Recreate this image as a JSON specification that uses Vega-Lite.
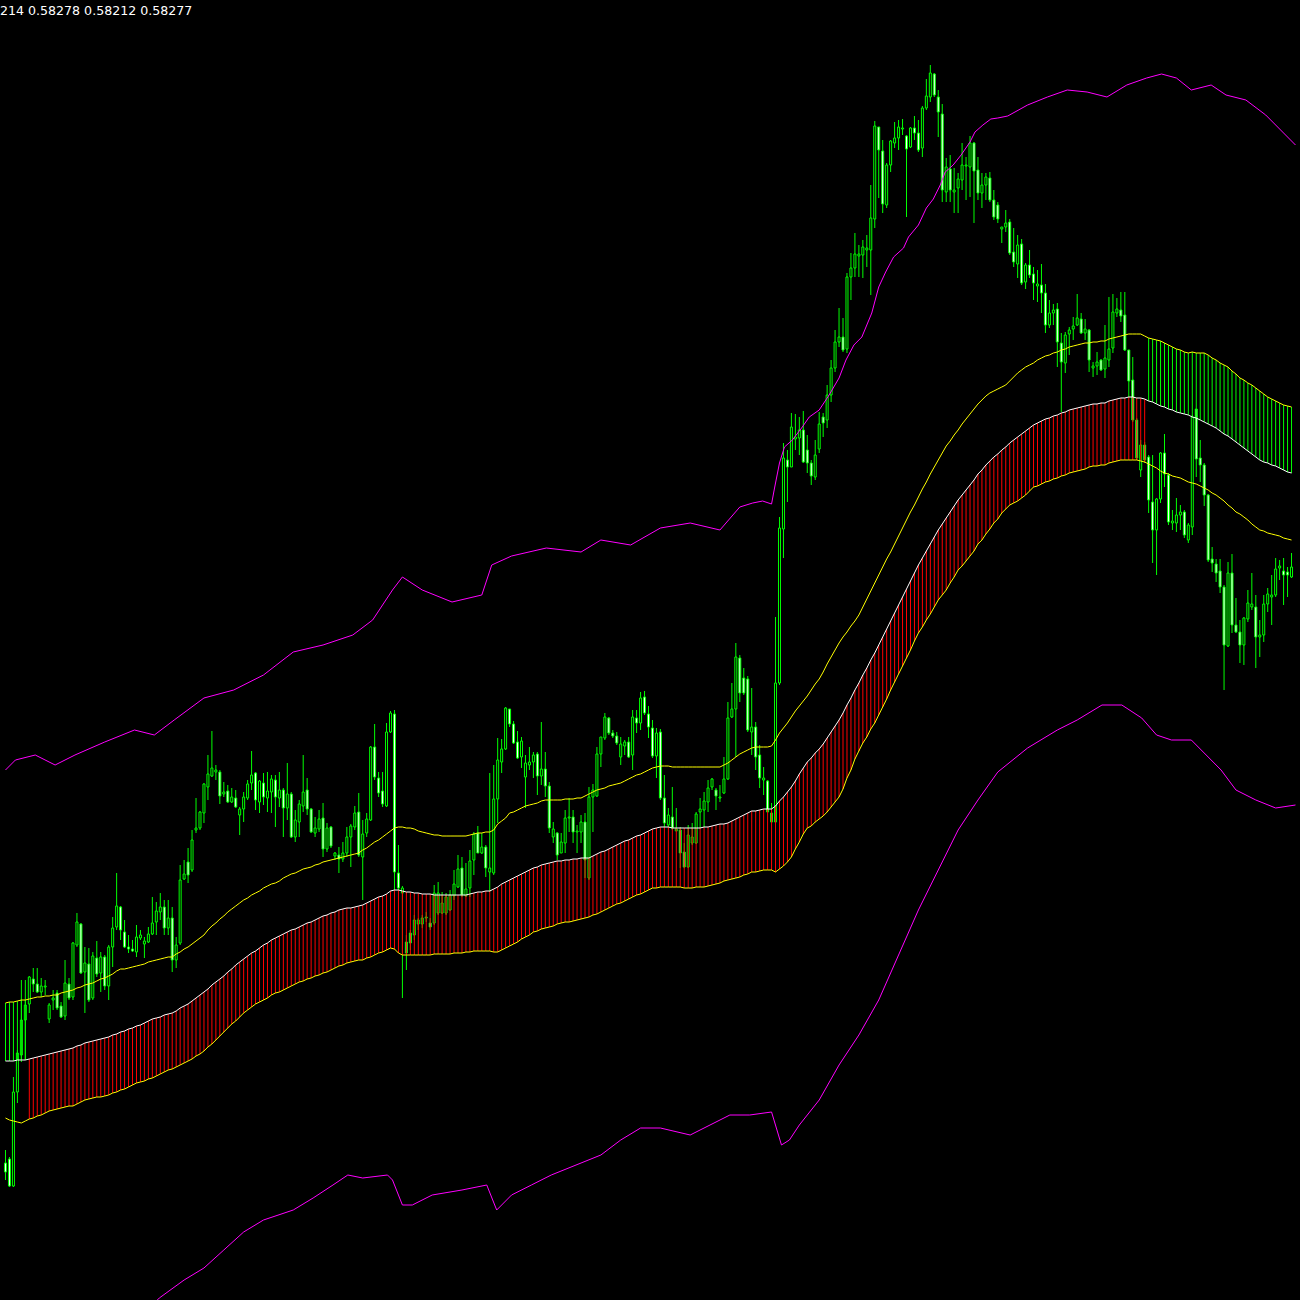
{
"$schema":"https://vega.github.io/schema/vega-lite/v6.json",
"width":1300,"height":1300,"padding":0,
"autosize":{"type":"none"},
"background":"#000000",
"config":{"view":{"stroke":null}},
"title":{"text":"214 0.58278 0.58212 0.58277","anchor":"start","frame":"group","orient":"top","offset":-28,"baseline":"alphabetic","color":"#ffffff","font":"DejaVu Sans","fontSize":12.6,"fontWeight":"normal"},
"datasets":{
"bars":[
{"t":0,"o":137,"h":150,"l":120,"c":128,"w":239,"u":297,"d":182},
{"t":1,"o":141,"h":143,"l":113,"c":114,"w":239,"u":298,"d":180},
{"t":2,"o":114,"h":223,"l":113,"c":208,"w":239,"u":298,"d":179},
{"t":3,"o":208,"h":250,"l":197,"c":247,"w":240,"u":299,"d":178},
{"t":4,"o":245,"h":320,"l":238,"c":280,"w":240,"u":300,"d":177},
{"t":5,"o":280,"h":320,"l":240,"c":295,"w":240,"u":300,"d":179},
{"t":6,"o":296,"h":324,"l":287,"c":323,"w":241,"u":301,"d":181},
{"t":7,"o":321,"h":332,"l":308,"c":316,"w":242,"u":302,"d":182},
{"t":8,"o":316,"h":332,"l":307,"c":308,"w":243,"u":303,"d":184},
{"t":9,"o":308,"h":322,"l":303,"c":314,"w":244,"u":303,"d":185},
{"t":10,"o":313,"h":320,"l":305,"c":314,"w":245,"u":304,"d":187},
{"t":11,"o":281,"h":297,"l":277,"c":295,"w":246,"u":304,"d":189},
{"t":12,"o":300,"h":310,"l":290,"c":302,"w":247,"u":305,"d":190},
{"t":13,"o":307,"h":310,"l":290,"c":292,"w":248,"u":305,"d":191},
{"t":14,"o":294,"h":298,"l":282,"c":283,"w":249,"u":307,"d":192},
{"t":15,"o":284,"h":340,"l":280,"c":317,"w":250,"u":308,"d":193},
{"t":16,"o":316,"h":322,"l":300,"c":302,"w":251,"u":309,"d":194},
{"t":17,"o":303,"h":358,"l":300,"c":357,"w":252,"u":310,"d":194},
{"t":18,"o":355,"h":387,"l":353,"c":378,"w":254,"u":312,"d":196},
{"t":19,"o":376,"h":377,"l":326,"c":327,"w":255,"u":313,"d":198},
{"t":20,"o":328,"h":353,"l":287,"c":337,"w":257,"u":315,"d":200},
{"t":21,"o":336,"h":352,"l":298,"c":300,"w":258,"u":316,"d":201},
{"t":22,"o":302,"h":348,"l":300,"c":344,"w":259,"u":317,"d":202},
{"t":23,"o":342,"h":359,"l":323,"c":326,"w":260,"u":319,"d":203},
{"t":24,"o":327,"h":348,"l":308,"c":343,"w":261,"u":321,"d":203},
{"t":25,"o":343,"h":345,"l":310,"c":314,"w":262,"u":322,"d":204},
{"t":26,"o":314,"h":355,"l":300,"c":353,"w":263,"u":324,"d":205},
{"t":27,"o":353,"h":383,"l":333,"c":372,"w":265,"u":326,"d":207},
{"t":28,"o":373,"h":427,"l":370,"c":394,"w":266,"u":329,"d":208},
{"t":29,"o":393,"h":394,"l":360,"c":370,"w":268,"u":331,"d":210},
{"t":30,"o":368,"h":380,"l":352,"c":353,"w":269,"u":331,"d":211},
{"t":31,"o":353,"h":365,"l":347,"c":351,"w":271,"u":332,"d":213},
{"t":32,"o":351,"h":360,"l":348,"c":349,"w":272,"u":333,"d":215},
{"t":33,"o":348,"h":375,"l":343,"c":363,"w":274,"u":334,"d":217},
{"t":34,"o":362,"h":370,"l":360,"c":365,"w":275,"u":335,"d":218},
{"t":35,"o":356,"h":363,"l":342,"c":359,"w":277,"u":336,"d":219},
{"t":36,"o":358,"h":373,"l":357,"c":366,"w":279,"u":338,"d":221},
{"t":37,"o":366,"h":403,"l":365,"c":377,"w":281,"u":339,"d":222},
{"t":38,"o":378,"h":398,"l":365,"c":389,"w":282,"u":340,"d":224},
{"t":39,"o":388,"h":407,"l":380,"c":393,"w":283,"u":341,"d":226},
{"t":40,"o":393,"h":400,"l":365,"c":372,"w":285,"u":342,"d":228},
{"t":41,"o":372,"h":400,"l":365,"c":382,"w":286,"u":343,"d":230},
{"t":42,"o":382,"h":393,"l":328,"c":340,"w":287,"u":343,"d":231},
{"t":43,"o":340,"h":363,"l":332,"c":355,"w":289,"u":346,"d":233},
{"t":44,"o":357,"h":435,"l":355,"c":420,"w":292,"u":348,"d":235},
{"t":45,"o":421,"h":440,"l":420,"c":426,"w":294,"u":351,"d":237},
{"t":46,"o":438,"h":452,"l":417,"c":425,"w":296,"u":353,"d":239},
{"t":47,"o":430,"h":470,"l":428,"c":460,"w":299,"u":356,"d":241},
{"t":48,"o":470,"h":502,"l":467,"c":472,"w":302,"u":359,"d":244},
{"t":49,"o":472,"h":489,"l":470,"c":488,"w":305,"u":362,"d":246},
{"t":50,"o":487,"h":517,"l":477,"c":516,"w":308,"u":365,"d":249},
{"t":51,"o":513,"h":545,"l":500,"c":526,"w":311,"u":370,"d":253},
{"t":52,"o":524,"h":569,"l":523,"c":532,"w":315,"u":374,"d":256},
{"t":53,"o":528,"h":535,"l":520,"c":530,"w":318,"u":377,"d":260},
{"t":54,"o":528,"h":530,"l":496,"c":504,"w":321,"u":381,"d":264},
{"t":55,"o":506,"h":518,"l":503,"c":508,"w":324,"u":384,"d":268},
{"t":56,"o":509,"h":515,"l":497,"c":498,"w":328,"u":388,"d":272},
{"t":57,"o":498,"h":512,"l":497,"c":503,"w":331,"u":391,"d":276},
{"t":58,"o":502,"h":510,"l":492,"c":493,"w":335,"u":394,"d":279},
{"t":59,"o":485,"h":493,"l":465,"c":491,"w":338,"u":397,"d":283},
{"t":60,"o":491,"h":508,"l":478,"c":503,"w":341,"u":400,"d":287},
{"t":61,"o":502,"h":520,"l":500,"c":516,"w":344,"u":402,"d":290},
{"t":62,"o":517,"h":549,"l":510,"c":525,"w":347,"u":405,"d":293},
{"t":63,"o":527,"h":528,"l":490,"c":500,"w":349,"u":407,"d":296},
{"t":64,"o":498,"h":520,"l":487,"c":519,"w":352,"u":409,"d":298},
{"t":65,"o":517,"h":527,"l":495,"c":503,"w":355,"u":412,"d":300},
{"t":66,"o":502,"h":528,"l":488,"c":509,"w":357,"u":414,"d":302},
{"t":67,"o":508,"h":525,"l":487,"c":521,"w":360,"u":416,"d":305},
{"t":68,"o":520,"h":525,"l":473,"c":503,"w":362,"u":417,"d":307},
{"t":69,"o":502,"h":528,"l":493,"c":510,"w":364,"u":419,"d":308},
{"t":70,"o":510,"h":512,"l":463,"c":492,"w":366,"u":422,"d":310},
{"t":71,"o":492,"h":537,"l":480,"c":506,"w":368,"u":424,"d":312},
{"t":72,"o":506,"h":508,"l":462,"c":463,"w":370,"u":426,"d":314},
{"t":73,"o":463,"h":490,"l":458,"c":480,"w":371,"u":427,"d":316},
{"t":74,"o":478,"h":500,"l":463,"c":496,"w":373,"u":429,"d":318},
{"t":75,"o":494,"h":545,"l":488,"c":508,"w":375,"u":431,"d":319},
{"t":76,"o":510,"h":522,"l":485,"c":491,"w":377,"u":432,"d":321},
{"t":77,"o":491,"h":492,"l":467,"c":468,"w":378,"u":433,"d":322},
{"t":78,"o":467,"h":483,"l":463,"c":472,"w":380,"u":435,"d":324},
{"t":79,"o":471,"h":490,"l":468,"c":481,"w":382,"u":436,"d":325},
{"t":80,"o":482,"h":497,"l":443,"c":451,"w":384,"u":438,"d":327},
{"t":81,"o":451,"h":477,"l":448,"c":472,"w":385,"u":439,"d":328},
{"t":82,"o":473,"h":474,"l":452,"c":454,"w":387,"u":440,"d":330},
{"t":83,"o":444,"h":448,"l":440,"c":447,"w":388,"u":441,"d":332},
{"t":84,"o":445,"h":453,"l":427,"c":441,"w":390,"u":442,"d":334},
{"t":85,"o":441,"h":458,"l":438,"c":447,"w":391,"u":443,"d":335},
{"t":86,"o":447,"h":473,"l":443,"c":463,"w":392,"u":444,"d":337},
{"t":87,"o":463,"h":476,"l":433,"c":474,"w":392,"u":445,"d":338},
{"t":88,"o":473,"h":494,"l":470,"c":487,"w":393,"u":446,"d":339},
{"t":89,"o":488,"h":507,"l":443,"c":445,"w":394,"u":447,"d":340},
{"t":90,"o":443,"h":480,"l":400,"c":466,"w":395,"u":450,"d":340},
{"t":91,"o":467,"h":487,"l":463,"c":481,"w":397,"u":452,"d":342},
{"t":92,"o":480,"h":554,"l":479,"c":553,"w":399,"u":455,"d":343},
{"t":93,"o":553,"h":576,"l":520,"c":523,"w":401,"u":458,"d":345},
{"t":94,"o":522,"h":528,"l":503,"c":507,"w":403,"u":460,"d":347},
{"t":95,"o":509,"h":528,"l":493,"c":496,"w":404,"u":463,"d":348},
{"t":96,"o":494,"h":577,"l":493,"c":568,"w":406,"u":466,"d":350},
{"t":97,"o":568,"h":589,"l":567,"c":587,"w":409,"u":469,"d":352},
{"t":98,"o":586,"h":590,"l":410,"c":428,"w":410,"u":472,"d":351},
{"t":99,"o":427,"h":455,"l":410,"c":412,"w":410,"u":473,"d":347},
{"t":100,"o":407,"h":414,"l":302,"c":412,"w":409,"u":473,"d":345},
{"t":101,"o":358,"h":365,"l":330,"c":347,"w":408,"u":472,"d":345},
{"t":102,"o":367,"h":370,"l":350,"c":357,"w":408,"u":472,"d":345},
{"t":103,"o":365,"h":385,"l":360,"c":380,"w":407,"u":471,"d":345},
{"t":104,"o":376,"h":382,"l":370,"c":380,"w":407,"u":469,"d":345},
{"t":105,"o":376,"h":385,"l":372,"c":382,"w":406,"u":468,"d":345},
{"t":106,"o":382,"h":388,"l":378,"c":383,"w":406,"u":467,"d":345},
{"t":107,"o":377,"h":382,"l":370,"c":373,"w":406,"u":466,"d":345},
{"t":108,"o":377,"h":415,"l":375,"c":407,"w":405,"u":465,"d":346},
{"t":109,"o":387,"h":418,"l":385,"c":407,"w":405,"u":465,"d":346},
{"t":110,"o":387,"h":408,"l":386,"c":397,"w":405,"u":464,"d":346},
{"t":111,"o":387,"h":407,"l":385,"c":403,"w":405,"u":464,"d":346},
{"t":112,"o":390,"h":410,"l":389,"c":405,"w":405,"u":464,"d":346},
{"t":113,"o":404,"h":430,"l":400,"c":416,"w":405,"u":464,"d":347},
{"t":114,"o":413,"h":445,"l":412,"c":431,"w":405,"u":464,"d":347},
{"t":115,"o":432,"h":443,"l":403,"c":405,"w":405,"u":464,"d":347},
{"t":116,"o":404,"h":437,"l":403,"c":411,"w":405,"u":464,"d":348},
{"t":117,"o":412,"h":450,"l":403,"c":439,"w":406,"u":465,"d":348},
{"t":118,"o":440,"h":468,"l":425,"c":466,"w":407,"u":466,"d":349},
{"t":119,"o":467,"h":474,"l":447,"c":447,"w":408,"u":467,"d":349},
{"t":120,"o":447,"h":467,"l":446,"c":453,"w":408,"u":467,"d":349},
{"t":121,"o":453,"h":455,"l":423,"c":432,"w":409,"u":468,"d":349},
{"t":122,"o":428,"h":527,"l":408,"c":432,"w":409,"u":468,"d":349},
{"t":123,"o":427,"h":535,"l":425,"c":501,"w":411,"u":470,"d":348},
{"t":124,"o":501,"h":562,"l":477,"c":540,"w":413,"u":476,"d":348},
{"t":125,"o":538,"h":561,"l":527,"c":551,"w":416,"u":479,"d":350},
{"t":126,"o":551,"h":593,"l":550,"c":592,"w":418,"u":482,"d":352},
{"t":127,"o":591,"h":591,"l":573,"c":576,"w":420,"u":487,"d":354},
{"t":128,"o":576,"h":579,"l":556,"c":557,"w":422,"u":488,"d":356},
{"t":129,"o":558,"h":569,"l":541,"c":542,"w":424,"u":490,"d":358},
{"t":130,"o":543,"h":563,"l":532,"c":559,"w":426,"u":492,"d":361},
{"t":131,"o":523,"h":545,"l":492,"c":537,"w":428,"u":494,"d":363},
{"t":132,"o":535,"h":553,"l":530,"c":538,"w":430,"u":495,"d":365},
{"t":133,"o":538,"h":548,"l":522,"c":545,"w":432,"u":496,"d":368},
{"t":134,"o":546,"h":548,"l":505,"c":524,"w":433,"u":497,"d":369},
{"t":135,"o":524,"h":578,"l":515,"c":531,"w":435,"u":499,"d":371},
{"t":136,"o":531,"h":548,"l":503,"c":514,"w":436,"u":500,"d":372},
{"t":137,"o":514,"h":518,"l":467,"c":472,"w":437,"u":500,"d":373},
{"t":138,"o":463,"h":478,"l":457,"c":471,"w":438,"u":500,"d":374},
{"t":139,"o":467,"h":468,"l":440,"c":445,"w":439,"u":500,"d":376},
{"t":140,"o":447,"h":467,"l":447,"c":458,"w":439,"u":500,"d":377},
{"t":141,"o":457,"h":490,"l":447,"c":482,"w":440,"u":501,"d":378},
{"t":142,"o":482,"h":502,"l":468,"c":483,"w":440,"u":501,"d":378},
{"t":143,"o":483,"h":490,"l":457,"c":468,"w":441,"u":501,"d":379},
{"t":144,"o":468,"h":475,"l":447,"c":469,"w":441,"u":502,"d":380},
{"t":145,"o":468,"h":485,"l":457,"c":478,"w":442,"u":502,"d":381},
{"t":146,"o":478,"h":487,"l":422,"c":440,"w":442,"u":504,"d":382},
{"t":147,"o":422,"h":513,"l":420,"c":503,"w":442,"u":506,"d":383},
{"t":148,"o":503,"h":516,"l":468,"c":510,"w":444,"u":508,"d":385},
{"t":149,"o":504,"h":553,"l":503,"c":546,"w":446,"u":510,"d":386},
{"t":150,"o":546,"h":563,"l":533,"c":563,"w":448,"u":511,"d":388},
{"t":151,"o":562,"h":587,"l":560,"c":583,"w":449,"u":512,"d":390},
{"t":152,"o":582,"h":583,"l":565,"c":567,"w":451,"u":514,"d":392},
{"t":153,"o":567,"h":570,"l":562,"c":564,"w":453,"u":515,"d":394},
{"t":154,"o":564,"h":568,"l":555,"c":557,"w":455,"u":516,"d":396},
{"t":155,"o":543,"h":563,"l":535,"c":556,"w":457,"u":517,"d":397},
{"t":156,"o":554,"h":560,"l":545,"c":558,"w":459,"u":519,"d":399},
{"t":157,"o":558,"h":563,"l":542,"c":543,"w":460,"u":521,"d":401},
{"t":158,"o":545,"h":590,"l":530,"c":583,"w":462,"u":523,"d":403},
{"t":159,"o":582,"h":590,"l":567,"c":577,"w":464,"u":525,"d":405},
{"t":160,"o":577,"h":608,"l":570,"c":602,"w":465,"u":526,"d":406},
{"t":161,"o":603,"h":609,"l":585,"c":587,"w":467,"u":528,"d":408},
{"t":162,"o":586,"h":594,"l":562,"c":573,"w":469,"u":530,"d":410},
{"t":163,"o":572,"h":580,"l":542,"c":544,"w":471,"u":532,"d":412},
{"t":164,"o":544,"h":572,"l":522,"c":567,"w":472,"u":533,"d":412},
{"t":165,"o":568,"h":571,"l":500,"c":502,"w":473,"u":534,"d":413},
{"t":166,"o":502,"h":525,"l":473,"c":477,"w":473,"u":534,"d":413},
{"t":167,"o":475,"h":492,"l":473,"c":485,"w":473,"u":534,"d":413},
{"t":168,"o":483,"h":513,"l":470,"c":472,"w":472,"u":533,"d":413},
{"t":169,"o":469,"h":492,"l":469,"c":471,"w":472,"u":533,"d":413},
{"t":170,"o":470,"h":473,"l":432,"c":447,"w":472,"u":533,"d":413},
{"t":171,"o":448,"h":457,"l":432,"c":433,"w":472,"u":533,"d":412},
{"t":172,"o":433,"h":475,"l":432,"c":465,"w":472,"u":533,"d":412},
{"t":173,"o":457,"h":477,"l":455,"c":463,"w":472,"u":533,"d":412},
{"t":174,"o":457,"h":488,"l":456,"c":486,"w":472,"u":533,"d":413},
{"t":175,"o":488,"h":502,"l":472,"c":491,"w":472,"u":533,"d":413},
{"t":176,"o":490,"h":508,"l":473,"c":499,"w":473,"u":533,"d":413},
{"t":177,"o":498,"h":520,"l":488,"c":512,"w":473,"u":533,"d":414},
{"t":178,"o":513,"h":522,"l":510,"c":521,"w":474,"u":533,"d":415},
{"t":179,"o":510,"h":512,"l":490,"c":504,"w":475,"u":533,"d":416},
{"t":180,"o":502,"h":515,"l":498,"c":503,"w":476,"u":533,"d":417},
{"t":181,"o":507,"h":543,"l":506,"c":521,"w":476,"u":535,"d":419},
{"t":182,"o":521,"h":598,"l":520,"c":582,"w":477,"u":537,"d":420},
{"t":183,"o":583,"h":617,"l":582,"c":591,"w":479,"u":540,"d":421},
{"t":184,"o":591,"h":657,"l":543,"c":643,"w":481,"u":543,"d":422},
{"t":185,"o":642,"h":645,"l":598,"c":607,"w":483,"u":546,"d":423},
{"t":186,"o":622,"h":632,"l":605,"c":607,"w":485,"u":548,"d":425},
{"t":187,"o":621,"h":624,"l":568,"c":570,"w":487,"u":550,"d":426},
{"t":188,"o":568,"h":612,"l":545,"c":573,"w":489,"u":552,"d":428},
{"t":189,"o":573,"h":578,"l":530,"c":543,"w":489,"u":553,"d":428},
{"t":190,"o":545,"h":555,"l":512,"c":522,"w":490,"u":553,"d":429},
{"t":191,"o":520,"h":533,"l":505,"c":522,"w":491,"u":553,"d":430},
{"t":192,"o":519,"h":520,"l":488,"c":488,"w":491,"u":553,"d":430},
{"t":193,"o":487,"h":497,"l":478,"c":478,"w":491,"u":554,"d":430},
{"t":194,"o":478,"h":683,"l":477,"c":617,"w":494,"u":560,"d":428},
{"t":195,"o":617,"h":783,"l":615,"c":772,"w":499,"u":567,"d":431},
{"t":196,"o":771,"h":857,"l":742,"c":842,"w":503,"u":572,"d":434},
{"t":197,"o":840,"h":850,"l":798,"c":833,"w":508,"u":577,"d":438},
{"t":198,"o":833,"h":887,"l":833,"c":873,"w":513,"u":583,"d":443},
{"t":199,"o":861,"h":886,"l":850,"c":863,"w":519,"u":589,"d":451},
{"t":200,"o":862,"h":883,"l":845,"c":870,"w":526,"u":594,"d":458},
{"t":201,"o":870,"h":889,"l":837,"c":838,"w":532,"u":599,"d":466},
{"t":202,"o":850,"h":865,"l":827,"c":837,"w":538,"u":604,"d":472},
{"t":203,"o":837,"h":840,"l":815,"c":824,"w":542,"u":610,"d":474},
{"t":204,"o":823,"h":860,"l":820,"c":845,"w":547,"u":616,"d":478},
{"t":205,"o":851,"h":888,"l":847,"c":876,"w":551,"u":621,"d":481},
{"t":206,"o":883,"h":887,"l":863,"c":877,"w":556,"u":628,"d":484},
{"t":207,"o":880,"h":915,"l":872,"c":905,"w":562,"u":636,"d":488},
{"t":208,"o":905,"h":940,"l":898,"c":932,"w":568,"u":643,"d":493},
{"t":209,"o":932,"h":970,"l":928,"c":958,"w":574,"u":650,"d":498},
{"t":210,"o":958,"h":992,"l":953,"c":963,"w":580,"u":657,"d":503},
{"t":211,"o":963,"h":982,"l":948,"c":950,"w":587,"u":663,"d":511},
{"t":212,"o":951,"h":1027,"l":947,"c":1023,"w":595,"u":668,"d":522},
{"t":213,"o":1023,"h":1047,"l":1000,"c":1032,"w":602,"u":674,"d":530},
{"t":214,"o":1032,"h":1067,"l":1023,"c":1046,"w":610,"u":679,"d":541},
{"t":215,"o":1044,"h":1055,"l":1023,"c":1046,"w":617,"u":685,"d":549},
{"t":216,"o":1045,"h":1060,"l":1022,"c":1053,"w":625,"u":693,"d":557},
{"t":217,"o":1050,"h":1065,"l":1033,"c":1052,"w":632,"u":701,"d":563},
{"t":218,"o":1050,"h":1115,"l":1005,"c":1082,"w":640,"u":709,"d":571},
{"t":219,"o":1081,"h":1179,"l":1072,"c":1174,"w":647,"u":717,"d":577},
{"t":220,"o":1173,"h":1173,"l":1102,"c":1150,"w":655,"u":725,"d":585},
{"t":221,"o":1149,"h":1160,"l":1087,"c":1096,"w":663,"u":733,"d":593},
{"t":222,"o":1095,"h":1137,"l":1092,"c":1135,"w":671,"u":741,"d":601},
{"t":223,"o":1135,"h":1160,"l":1128,"c":1159,"w":679,"u":748,"d":610},
{"t":224,"o":1157,"h":1178,"l":1152,"c":1162,"w":687,"u":756,"d":618},
{"t":225,"o":1162,"h":1180,"l":1150,"c":1173,"w":695,"u":764,"d":626},
{"t":226,"o":1171,"h":1181,"l":1165,"c":1172,"w":703,"u":772,"d":634},
{"t":227,"o":1164,"h":1165,"l":1083,"c":1151,"w":711,"u":780,"d":642},
{"t":228,"o":1153,"h":1173,"l":1152,"c":1172,"w":719,"u":788,"d":650},
{"t":229,"o":1172,"h":1184,"l":1160,"c":1167,"w":727,"u":795,"d":659},
{"t":230,"o":1167,"h":1180,"l":1148,"c":1150,"w":735,"u":803,"d":667},
{"t":231,"o":1152,"h":1194,"l":1143,"c":1192,"w":742,"u":811,"d":673},
{"t":232,"o":1192,"h":1221,"l":1190,"c":1204,"w":749,"u":818,"d":680},
{"t":233,"o":1203,"h":1235,"l":1198,"c":1227,"w":756,"u":826,"d":686},
{"t":234,"o":1226,"h":1227,"l":1203,"c":1205,"w":763,"u":833,"d":693},
{"t":235,"o":1203,"h":1210,"l":1163,"c":1188,"w":770,"u":840,"d":700},
{"t":236,"o":1186,"h":1196,"l":1098,"c":1110,"w":776,"u":847,"d":705},
{"t":237,"o":1108,"h":1142,"l":1098,"c":1133,"w":782,"u":854,"d":710},
{"t":238,"o":1131,"h":1145,"l":1098,"c":1110,"w":788,"u":859,"d":717},
{"t":239,"o":1108,"h":1132,"l":1087,"c":1110,"w":794,"u":865,"d":723},
{"t":240,"o":1112,"h":1127,"l":1087,"c":1121,"w":800,"u":870,"d":730},
{"t":241,"o":1120,"h":1157,"l":1110,"c":1135,"w":805,"u":876,"d":734},
{"t":242,"o":1134,"h":1143,"l":1100,"c":1135,"w":810,"u":881,"d":739},
{"t":243,"o":1133,"h":1164,"l":1103,"c":1157,"w":815,"u":886,"d":744},
{"t":244,"o":1157,"h":1158,"l":1077,"c":1129,"w":820,"u":891,"d":749},
{"t":245,"o":1130,"h":1143,"l":1100,"c":1107,"w":826,"u":896,"d":756},
{"t":246,"o":1107,"h":1127,"l":1092,"c":1115,"w":830,"u":900,"d":760},
{"t":247,"o":1115,"h":1127,"l":1100,"c":1123,"w":835,"u":904,"d":766},
{"t":248,"o":1122,"h":1128,"l":1098,"c":1100,"w":839,"u":907,"d":771},
{"t":249,"o":1100,"h":1110,"l":1080,"c":1083,"w":843,"u":909,"d":777},
{"t":250,"o":1095,"h":1098,"l":1077,"c":1081,"w":846,"u":911,"d":781},
{"t":251,"o":1071,"h":1073,"l":1057,"c":1073,"w":850,"u":913,"d":787},
{"t":252,"o":1073,"h":1090,"l":1068,"c":1077,"w":853,"u":915,"d":791},
{"t":253,"o":1078,"h":1081,"l":1045,"c":1047,"w":857,"u":919,"d":795},
{"t":254,"o":1048,"h":1072,"l":1033,"c":1038,"w":860,"u":923,"d":797},
{"t":255,"o":1036,"h":1065,"l":1022,"c":1055,"w":863,"u":927,"d":799},
{"t":256,"o":1056,"h":1061,"l":1015,"c":1017,"w":866,"u":930,"d":802},
{"t":257,"o":1018,"h":1037,"l":1011,"c":1035,"w":869,"u":933,"d":805},
{"t":258,"o":1035,"h":1050,"l":1022,"c":1025,"w":872,"u":935,"d":809},
{"t":259,"o":1026,"h":1033,"l":1000,"c":1017,"w":875,"u":937,"d":813},
{"t":260,"o":1014,"h":1030,"l":998,"c":1016,"w":877,"u":940,"d":814},
{"t":261,"o":1015,"h":1036,"l":987,"c":1007,"w":879,"u":942,"d":816},
{"t":262,"o":1007,"h":1016,"l":967,"c":975,"w":881,"u":944,"d":818},
{"t":263,"o":975,"h":1000,"l":972,"c":987,"w":882,"u":945,"d":819},
{"t":264,"o":987,"h":996,"l":975,"c":990,"w":884,"u":947,"d":821},
{"t":265,"o":991,"h":997,"l":933,"c":958,"w":885,"u":948,"d":822},
{"t":266,"o":957,"h":967,"l":888,"c":938,"w":887,"u":950,"d":824},
{"t":267,"o":937,"h":968,"l":927,"c":965,"w":888,"u":951,"d":825},
{"t":268,"o":966,"h":973,"l":945,"c":970,"w":890,"u":953,"d":827},
{"t":269,"o":971,"h":983,"l":960,"c":974,"w":891,"u":954,"d":828},
{"t":270,"o":975,"h":1006,"l":974,"c":982,"w":892,"u":955,"d":829},
{"t":271,"o":981,"h":987,"l":966,"c":967,"w":893,"u":956,"d":830},
{"t":272,"o":967,"h":981,"l":960,"c":971,"w":894,"u":957,"d":831},
{"t":273,"o":970,"h":971,"l":928,"c":940,"w":895,"u":957,"d":833},
{"t":274,"o":932,"h":938,"l":923,"c":934,"w":896,"u":958,"d":834},
{"t":275,"o":934,"h":948,"l":925,"c":938,"w":896,"u":958,"d":834},
{"t":276,"o":940,"h":941,"l":929,"c":930,"w":897,"u":959,"d":835},
{"t":277,"o":931,"h":975,"l":922,"c":942,"w":897,"u":959,"d":835},
{"t":278,"o":940,"h":1003,"l":933,"c":951,"w":899,"u":961,"d":837},
{"t":279,"o":952,"h":1006,"l":947,"c":988,"w":900,"u":962,"d":838},
{"t":280,"o":987,"h":1002,"l":983,"c":991,"w":901,"u":963,"d":839},
{"t":281,"o":990,"h":1008,"l":978,"c":984,"w":902,"u":964,"d":840},
{"t":282,"o":985,"h":1008,"l":949,"c":950,"w":902,"u":965,"d":840},
{"t":283,"o":950,"h":950,"l":903,"c":919,"w":903,"u":966,"d":840},
{"t":284,"o":920,"h":943,"l":878,"c":880,"w":903,"u":966,"d":840},
{"t":285,"o":880,"h":882,"l":840,"c":842,"w":902,"u":966,"d":840},
{"t":286,"o":830,"h":860,"l":823,"c":855,"w":902,"u":966,"d":839},
{"t":287,"o":855,"h":858,"l":837,"c":840,"w":901,"u":964,"d":838},
{"t":288,"o":843,"h":845,"l":787,"c":800,"w":899,"u":962,"d":836},
{"t":289,"o":798,"h":845,"l":737,"c":770,"w":898,"u":961,"d":834},
{"t":290,"o":770,"h":802,"l":725,"c":801,"w":896,"u":960,"d":832},
{"t":291,"o":801,"h":848,"l":797,"c":847,"w":894,"u":959,"d":829},
{"t":292,"o":847,"h":866,"l":813,"c":826,"w":893,"u":957,"d":827},
{"t":293,"o":825,"h":827,"l":775,"c":778,"w":891,"u":955,"d":826},
{"t":294,"o":777,"h":790,"l":770,"c":779,"w":890,"u":953,"d":824},
{"t":295,"o":777,"h":802,"l":768,"c":785,"w":888,"u":951,"d":823},
{"t":296,"o":785,"h":795,"l":770,"c":788,"w":887,"u":950,"d":822},
{"t":297,"o":788,"h":790,"l":762,"c":765,"w":886,"u":948,"d":820},
{"t":298,"o":760,"h":777,"l":757,"c":775,"w":885,"u":947,"d":818},
{"t":299,"o":773,"h":885,"l":765,"c":883,"w":883,"u":948,"d":817},
{"t":300,"o":891,"h":891,"l":823,"c":841,"w":882,"u":947,"d":816},
{"t":301,"o":842,"h":860,"l":818,"c":835,"w":880,"u":947,"d":814},
{"t":302,"o":835,"h":837,"l":794,"c":805,"w":878,"u":947,"d":812},
{"t":303,"o":805,"h":806,"l":738,"c":740,"w":876,"u":945,"d":810},
{"t":304,"o":741,"h":753,"l":728,"c":737,"w":874,"u":942,"d":807},
{"t":305,"o":736,"h":741,"l":718,"c":727,"w":872,"u":940,"d":805},
{"t":306,"o":729,"h":741,"l":707,"c":713,"w":869,"u":937,"d":802},
{"t":307,"o":713,"h":715,"l":610,"c":655,"w":866,"u":935,"d":799},
{"t":308,"o":654,"h":738,"l":653,"c":727,"w":864,"u":933,"d":795},
{"t":309,"o":727,"h":746,"l":667,"c":675,"w":861,"u":929,"d":792},
{"t":310,"o":675,"h":702,"l":667,"c":668,"w":858,"u":926,"d":788},
{"t":311,"o":668,"h":680,"l":637,"c":655,"w":855,"u":922,"d":786},
{"t":312,"o":655,"h":683,"l":635,"c":682,"w":852,"u":920,"d":783},
{"t":313,"o":681,"h":710,"l":678,"c":697,"w":849,"u":917,"d":780},
{"t":314,"o":693,"h":727,"l":690,"c":696,"w":846,"u":915,"d":776},
{"t":315,"o":693,"h":705,"l":632,"c":663,"w":843,"u":912,"d":773},
{"t":316,"o":663,"h":680,"l":643,"c":665,"w":840,"u":909,"d":770},
{"t":317,"o":665,"h":705,"l":658,"c":696,"w":838,"u":906,"d":769},
{"t":318,"o":696,"h":712,"l":688,"c":706,"w":837,"u":903,"d":767},
{"t":319,"o":703,"h":725,"l":675,"c":705,"w":835,"u":901,"d":766},
{"t":320,"o":705,"h":742,"l":703,"c":731,"w":834,"u":899,"d":765},
{"t":321,"o":732,"h":740,"l":720,"c":734,"w":832,"u":897,"d":764},
{"t":322,"o":729,"h":742,"l":695,"c":725,"w":830,"u":895,"d":762},
{"t":323,"o":728,"h":733,"l":703,"c":725,"w":828,"u":894,"d":761},
{"t":324,"o":723,"h":747,"l":722,"c":733,"w":827,"u":893,"d":760}
],
"env":[
{"t":0,"v":530,"band":"upper"},{"t":2.5,"v":540,"band":"upper"},{"t":7.5,"v":545,"band":"upper"},{"t":12.5,"v":535,"band":"upper"},{"t":17.5,"v":545,"band":"upper"},{"t":25,"v":558,"band":"upper"},{"t":32.5,"v":570,"band":"upper"},{"t":37.5,"v":565,"band":"upper"},{"t":42.5,"v":580,"band":"upper"},{"t":50,"v":602,"band":"upper"},{"t":57.5,"v":610,"band":"upper"},{"t":65,"v":625,"band":"upper"},{"t":72.5,"v":648,"band":"upper"},{"t":80,"v":655,"band":"upper"},{"t":87.5,"v":665,"band":"upper"},{"t":92.5,"v":680,"band":"upper"},{"t":97.5,"v":710,"band":"upper"},{"t":100,"v":723,"band":"upper"},{"t":105,"v":710,"band":"upper"},{"t":112.5,"v":698,"band":"upper"},{"t":120,"v":705,"band":"upper"},{"t":122.5,"v":735,"band":"upper"},{"t":127.5,"v":744,"band":"upper"},{"t":136.25,"v":752,"band":"upper"},{"t":145,"v":748,"band":"upper"},{"t":150,"v":760,"band":"upper"},{"t":157.5,"v":755,"band":"upper"},{"t":165,"v":772,"band":"upper"},{"t":172.5,"v":777,"band":"upper"},{"t":180,"v":770,"band":"upper"},{"t":185,"v":793,"band":"upper"},{"t":188.25,"v":797,"band":"upper"},{"t":190.75,"v":799,"band":"upper"},{"t":193,"v":796,"band":"upper"},{"t":193.75,"v":812,"band":"upper"},{"t":195,"v":837,"band":"upper"},{"t":196.25,"v":853,"band":"upper"},{"t":198.25,"v":860,"band":"upper"},{"t":200.75,"v":873,"band":"upper"},{"t":202.5,"v":883,"band":"upper"},{"t":205,"v":890,"band":"upper"},{"t":207.5,"v":905,"band":"upper"},{"t":210,"v":922,"band":"upper"},{"t":211.75,"v":940,"band":"upper"},{"t":213.75,"v":955,"band":"upper"},{"t":215.75,"v":963,"band":"upper"},{"t":218.25,"v":987,"band":"upper"},{"t":220,"v":1013,"band":"upper"},{"t":221.75,"v":1028,"band":"upper"},{"t":223.75,"v":1043,"band":"upper"},{"t":226.25,"v":1052,"band":"upper"},{"t":227.5,"v":1063,"band":"upper"},{"t":230,"v":1075,"band":"upper"},{"t":232,"v":1092,"band":"upper"},{"t":233.75,"v":1101,"band":"upper"},{"t":235.5,"v":1115,"band":"upper"},{"t":236.75,"v":1128,"band":"upper"},{"t":238.75,"v":1135,"band":"upper"},{"t":240.75,"v":1145,"band":"upper"},{"t":243,"v":1158,"band":"upper"},{"t":244.25,"v":1168,"band":"upper"},{"t":246.25,"v":1175,"band":"upper"},{"t":248.25,"v":1181,"band":"upper"},{"t":250,"v":1182,"band":"upper"},{"t":252.5,"v":1184,"band":"upper"},{"t":257.5,"v":1195,"band":"upper"},{"t":262.5,"v":1203,"band":"upper"},{"t":267.5,"v":1210,"band":"upper"},{"t":272.5,"v":1208,"band":"upper"},{"t":277.5,"v":1203,"band":"upper"},{"t":282.5,"v":1215,"band":"upper"},{"t":287.5,"v":1222,"band":"upper"},{"t":291.25,"v":1226,"band":"upper"},{"t":295,"v":1222,"band":"upper"},{"t":298.75,"v":1210,"band":"upper"},{"t":303.75,"v":1215,"band":"upper"},{"t":307.5,"v":1205,"band":"upper"},{"t":312.5,"v":1200,"band":"upper"},{"t":317.5,"v":1185,"band":"upper"},{"t":321.25,"v":1170,"band":"upper"},{"t":325,"v":1155,"band":"upper"},
{"t":37.5,"v":-3,"band":"lower"},{"t":38.75,"v":2,"band":"lower"},{"t":45,"v":20,"band":"lower"},{"t":50,"v":32,"band":"lower"},{"t":55,"v":50,"band":"lower"},{"t":60,"v":68,"band":"lower"},{"t":65,"v":80,"band":"lower"},{"t":72.5,"v":90,"band":"lower"},{"t":77.5,"v":102,"band":"lower"},{"t":82.5,"v":115,"band":"lower"},{"t":86.25,"v":125,"band":"lower"},{"t":90,"v":122,"band":"lower"},{"t":96.25,"v":125,"band":"lower"},{"t":97.5,"v":120,"band":"lower"},{"t":100,"v":95,"band":"lower"},{"t":102.5,"v":95,"band":"lower"},{"t":107.5,"v":105,"band":"lower"},{"t":115,"v":110,"band":"lower"},{"t":121.25,"v":115,"band":"lower"},{"t":123.75,"v":90,"band":"lower"},{"t":127.5,"v":105,"band":"lower"},{"t":132.5,"v":115,"band":"lower"},{"t":137.5,"v":125,"band":"lower"},{"t":145,"v":137,"band":"lower"},{"t":150,"v":145,"band":"lower"},{"t":155,"v":160,"band":"lower"},{"t":160,"v":172,"band":"lower"},{"t":165,"v":172,"band":"lower"},{"t":172.5,"v":165,"band":"lower"},{"t":177.5,"v":175,"band":"lower"},{"t":182.5,"v":185,"band":"lower"},{"t":187.5,"v":185,"band":"lower"},{"t":193,"v":188,"band":"lower"},{"t":195.5,"v":155,"band":"lower"},{"t":197.5,"v":160,"band":"lower"},{"t":200,"v":175,"band":"lower"},{"t":205,"v":200,"band":"lower"},{"t":210,"v":235,"band":"lower"},{"t":215,"v":265,"band":"lower"},{"t":220,"v":300,"band":"lower"},{"t":225,"v":345,"band":"lower"},{"t":230,"v":390,"band":"lower"},{"t":235,"v":430,"band":"lower"},{"t":240,"v":470,"band":"lower"},{"t":245,"v":500,"band":"lower"},{"t":250,"v":528,"band":"lower"},{"t":257.5,"v":552,"band":"lower"},{"t":265,"v":570,"band":"lower"},{"t":270,"v":580,"band":"lower"},{"t":276.25,"v":595,"band":"lower"},{"t":281.25,"v":595,"band":"lower"},{"t":286.25,"v":582,"band":"lower"},{"t":290,"v":565,"band":"lower"},{"t":293.75,"v":560,"band":"lower"},{"t":298.75,"v":560,"band":"lower"},{"t":302.5,"v":545,"band":"lower"},{"t":306.25,"v":530,"band":"lower"},{"t":310,"v":510,"band":"lower"},{"t":315,"v":500,"band":"lower"},{"t":320,"v":492,"band":"lower"},{"t":325,"v":495,"band":"lower"}
]
},
"data":{"name":"bars"},
"encoding":{"x":{"field":"t","type":"quantitative","scale":{"domain":[-0.125,324.875],"nice":false,"zero":false},"axis":null}},
"layer":[
{"mark":{"type":"rule","color":"#00ff00","strokeWidth":1},
 "encoding":{"y":{"field":"l","type":"quantitative","scale":{"domain":[0,1300],"nice":false,"zero":false},"axis":null},"y2":{"field":"h"}}},
{"mark":{"type":"bar","width":2,"stroke":"#00ff00","strokeWidth":1},
 "encoding":{"y":{"field":"o","type":"quantitative","scale":{"domain":[0,1300],"nice":false,"zero":false},"axis":null},"y2":{"field":"c"},
  "fill":{"condition":{"test":"datum.c < datum.o","value":"#ffffff"},"value":"#000000"}}},
{"transform":[{"filter":"datum.t >= 6 && datum.t <= 287"}],
 "mark":{"type":"bar","width":1,"fill":"#ff0000","stroke":null,"opacity":1},
 "encoding":{"y":{"field":"w","type":"quantitative","scale":{"domain":[0,1300],"nice":false,"zero":false},"axis":null},"y2":{"field":"d"}}},
{"transform":[{"filter":"datum.t < 6 || datum.t > 287"}],
 "mark":{"type":"bar","width":1,"fill":"#00ff00","stroke":null,"opacity":1},
 "encoding":{"y":{"field":"w","type":"quantitative","scale":{"domain":[0,1300],"nice":false,"zero":false},"axis":null},"y2":{"field":"u"}}},
{"mark":{"type":"line","color":"#ffff00","strokeWidth":1},
 "encoding":{"y":{"field":"u","type":"quantitative","scale":{"domain":[0,1300],"nice":false,"zero":false},"axis":null}}},
{"mark":{"type":"line","color":"#ffff00","strokeWidth":1},
 "encoding":{"y":{"field":"d","type":"quantitative","scale":{"domain":[0,1300],"nice":false,"zero":false},"axis":null}}},
{"mark":{"type":"line","color":"#ffffff","strokeWidth":1},
 "encoding":{"y":{"field":"w","type":"quantitative","scale":{"domain":[0,1300],"nice":false,"zero":false},"axis":null}}},
{"data":{"name":"env"},
 "mark":{"type":"line","color":"#ff00ff","strokeWidth":1,"clip":true},
 "encoding":{"y":{"field":"v","type":"quantitative","scale":{"domain":[0,1300],"nice":false,"zero":false},"axis":null},"detail":{"field":"band"}}}
]
}
